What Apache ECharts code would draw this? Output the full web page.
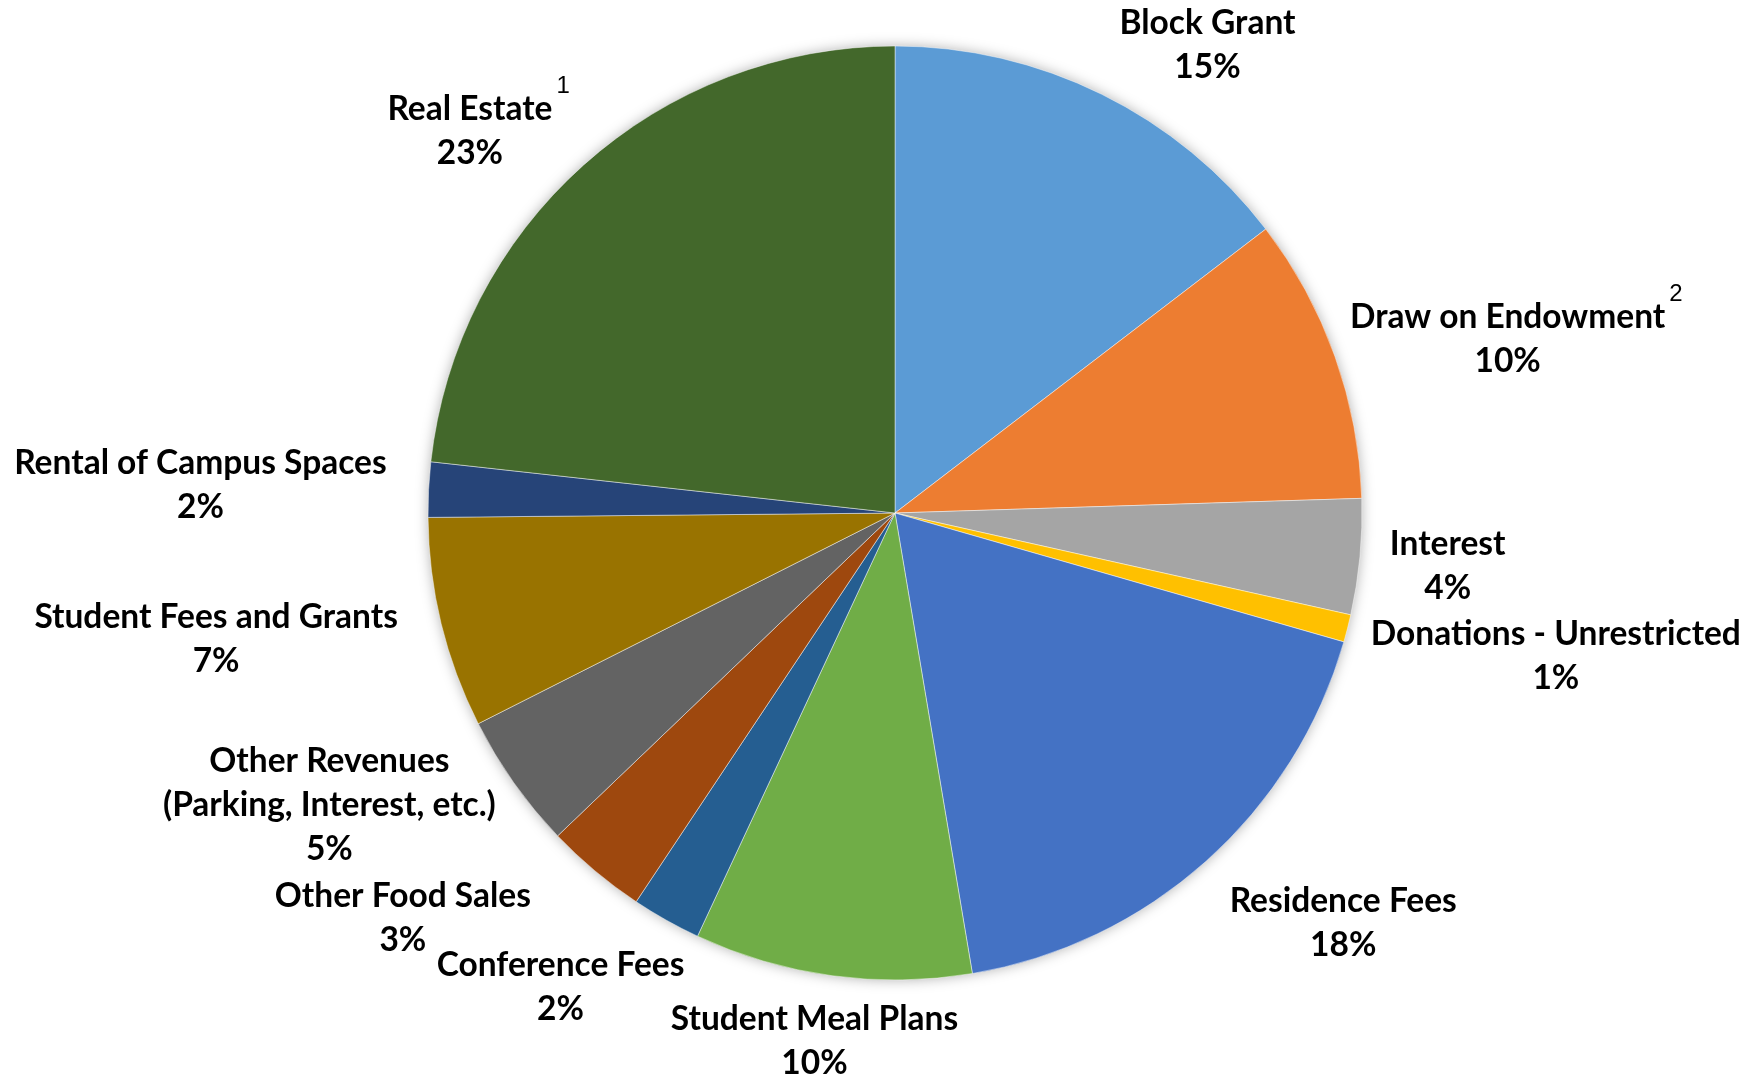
<!DOCTYPE html>
<html>
<head>
<meta charset="utf-8">
<script src="https://cdn.jsdelivr.net/npm/echarts@6/dist/echarts.min.js"></script>
<style>
html,body{margin:0;padding:0;background:#fff;}
#chart{width:1749px;height:1078px;}
</style>
</head>
<body>
<div id="chart"></div>
<script>
// Data (clockwise from 12 o'clock)
const categories = [
  'Block Grant', 'Draw on Endowment', 'Interest', 'Donations - Unrestricted',
  'Residence Fees', 'Student Meal Plans', 'Conference Fees', 'Other Food Sales',
  'Other Revenues\n(Parking, Interest, etc.)', 'Student Fees and Grants',
  'Rental of Campus Spaces', 'Real Estate'
];
const values = [14.6, 9.9, 4.0, 0.95, 17.9, 9.6, 2.4, 3.5, 4.7, 7.3, 1.9, 23.25];
const percentLabels = ['15%', '10%', '4%', '1%', '18%', '10%', '2%', '3%', '5%', '7%', '2%', '23%'];
const footnotes = ['', '2', '', '', '', '', '', '', '', '', '', '1'];
const colors = ['#5B9BD5', '#ED7D31', '#A5A5A5', '#FFC000', '#4472C4', '#70AD47',
                '#255E91', '#9E480E', '#636363', '#997300', '#264478', '#43682B'];

// label placement tweaks (layout only, pixels) relative to ECharts' outside position
const labelNudgeX = [8, -23, 8, 2, 9, 129, 29, -50, 0, -22, -20, 1];
const labelNudgeY = [-29, -10, 7, 22, 45, 44, 48, 30, 10, 11, -3, -18];

const chart = echarts.init(document.getElementById('chart'));

const FONT = 'Lato, "Open Sans", sans-serif';
const SUPFONT = '"Liberation Sans", Arial, sans-serif';

const seriesData = categories.map((c, i) => ({
  name: c,
  value: values[i],
  itemStyle: { color: colors[i] }
}));

chart.setOption({
  animation: false,
  backgroundColor: '#ffffff',
  series: [
    {
      // soft shadow disc behind the pie
      type: 'pie',
      silent: true,
      center: [895, 513],
      radius: 466,
      label: { show: false },
      labelLine: { show: false },
      data: [{ value: 1, itemStyle: { color: '#ffffff', shadowBlur: 14, shadowColor: 'rgba(0,0,0,0.35)' } }],
      z: 1
    },
    {
      type: 'pie',
      center: [895, 513],
      radius: 467,
      startAngle: 90,
      clockwise: true,
      avoidLabelOverlap: false,
      z: 2,
      itemStyle: { borderColor: 'rgba(255,255,255,0.45)', borderWidth: 1 },
      labelLine: { show: false, length: 22, length2: 0 },
      label: {
        show: true,
        position: 'outside',
        alignTo: 'none',
        distanceToLabelLine: 0,
        formatter: function (p) {
          const i = p.dataIndex;
          const fn = footnotes[i];
          let s = categories[i].split('\n').map(l => fn ? '{gap|' + fn + '}{n|' + l + '}{gap|' + fn + '}' : '{n|' + l + '}').join('\n');
          if (fn) s = '{sup|' + fn + '}\n' + s;
          return s + '\n{n|' + percentLabels[i] + '}';
        },
        rich: {
          n: { fontFamily: FONT, fontWeight: 'bold', fontSize: 33.5, lineHeight: 44, color: '#000', align: 'center' },
          sup: { fontFamily: SUPFONT, fontWeight: 'normal', fontSize: 24, lineHeight: 1, color: '#000', align: 'right' },
          gap: { fontFamily: SUPFONT, fontWeight: 'normal', fontSize: 24, lineHeight: 44, color: 'rgba(0,0,0,0)', align: 'center', padding: [0, 0, 0, 4] }
        }
      },
      labelLayout: function (params) {
        const i = params.dataIndex;
        return { dx: labelNudgeX[i], dy: labelNudgeY[i], hideOverlap: false };
      },
      data: seriesData
    }
  ]
});
</script>
</body>
</html>
